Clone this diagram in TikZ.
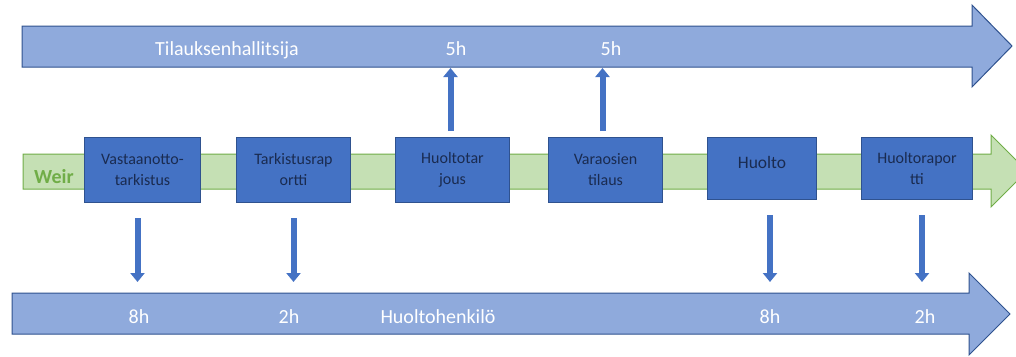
\documentclass[tikz,border=0pt]{standalone}
\usepackage{fontspec}
\setmainfont{Carlito}
\usetikzlibrary{arrows.meta}
\definecolor{barblue}{HTML}{8FAADC}
\definecolor{boxblue}{HTML}{4472C4}
\definecolor{boxline}{HTML}{2F528F}
\definecolor{boxtext}{HTML}{1A2B50}
\definecolor{lanegreen}{HTML}{C5E0B4}
\definecolor{laneline}{HTML}{70AD47}

\begin{document}
\begin{tikzpicture}[x=1pt,y=-1pt,
  task/.style={draw=boxline,fill=boxblue,line width=1pt,anchor=north west,inner sep=0pt,
    minimum width=114pt,minimum height=65pt,align=center,text=boxtext,
    font=\fontsize{16}{21}\selectfont},
  barlabel/.style={anchor=base,text=white,font=\fontsize{20}{24}\selectfont},
  flow/.style={draw=boxblue,line width=6pt,-{Triangle[width=14pt,length=9pt]}}]
\clip (0,0) rectangle (1016,356);
% the three bars
\filldraw[fill=barblue,draw=boxline,line width=1pt] (22,26) -- (972,26) -- (972,5) -- (1012,46) -- (972,87) -- (972,67) -- (22,67) -- cycle;
\filldraw[fill=lanegreen,draw=laneline,line width=1pt] (23,154) -- (991,154) -- (991,135) -- (1027,171) -- (991,207) -- (991,189) -- (23,189) -- cycle;
\filldraw[fill=barblue,draw=boxline,line width=1pt] (12,293) -- (969,293) -- (969,273) -- (1010,314) -- (969,355) -- (969,334) -- (12,334) -- cycle;
\coordinate (ytop) at (0,67);
\coordinate (ylow) at (0,293);
\node[anchor=base,text=laneline,font=\bfseries\fontsize{20}{24}\selectfont] (weir) at (54,183) {Weir};
% tasks
\node[task,minimum width=116pt] (vastaanotto) at (84,137) {Vastaanotto-\\tarkistus};
\node[task] (tarkistus) at (236,137) {Tarkistusrap\\ortti};
\node[task] (huoltotar) at (395,137) {Huoltotar\\jous};
\node[task] (varaosat) at (548,137) {Varaosien\\tilaus};
\node[task,minimum width=109pt,minimum height=62pt,text depth=12pt,font=\fontsize{17.5}{21}\selectfont] (huolto) at (707,137) {Huolto};
\node[task,minimum width=111pt,minimum height=62pt] (raportti) at (861,137) {Huoltorapor\\tti};
% arrows
\foreach \b/\dx in {vastaanotto/-5,tarkistus/0,huolto/8,raportti/5} {
  \draw[flow,shorten <=15pt,shorten >=11pt] ([xshift=\dx pt]\b.south) -- ([xshift=\dx pt]\b.south |- ylow);
}
\foreach \b/\dx in {huoltotar/-2,varaosat/-3} {
  \draw[flow,shorten <=6pt,shorten >=1pt] ([xshift=\dx pt]\b.north) -- ([xshift=\dx pt]\b.north |- ytop);
}
% labels
\node[barlabel] (tilaus) at (227,55) {Tilauksenhallitsija};
\node[barlabel] (t3) at (456,55) {5h};
\node[barlabel] (t4) at (611,55) {5h};
\node[barlabel] (t1) at (139,323) {8h};
\node[barlabel] (t2) at (289,323) {2h};
\node[barlabel] (henkilo) at (438,323) {Huoltohenkilö};
\node[barlabel] (t5) at (770,323) {8h};
\node[barlabel] (t6) at (925,323) {2h};
\end{tikzpicture}
\end{document}
